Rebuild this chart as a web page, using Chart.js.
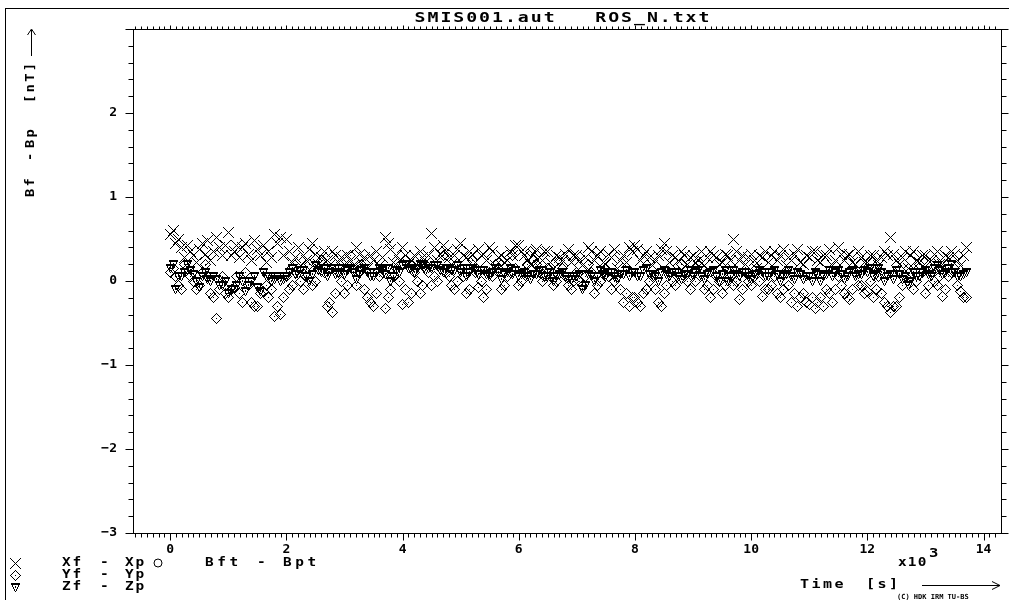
<!DOCTYPE html>
<html>
<head>
<meta charset="utf-8">
<style>
  html, body { margin: 0; padding: 0; background: #fff; }
  canvas { display: block; }
</style>
</head>
<body>
<canvas id="diffPlot" width="1009" height="600"></canvas>
<script src="https://cdn.jsdelivr.net/npm/chart.js@4.4.1/dist/chart.umd.min.js"></script>
<script>
// time in units of 10^3 s
var timeKs = [
  0.00, 0.05, 0.10, 0.15, 0.20, 0.25, 0.30, 0.35, 0.40, 0.45, 0.50, 0.55, 0.60, 0.65, 0.70, 0.75, 0.80, 0.85, 0.90, 0.95,
  1.00, 1.05, 1.10, 1.15, 1.20, 1.25, 1.30, 1.35, 1.40, 1.45, 1.50, 1.55, 1.60, 1.65, 1.70, 1.75, 1.80, 1.85, 1.90, 1.95,
  2.00, 2.05, 2.10, 2.15, 2.20, 2.25, 2.30, 2.35, 2.40, 2.45, 2.50, 2.55, 2.60, 2.65, 2.70, 2.75, 2.80, 2.85, 2.90, 2.95,
  3.00, 3.05, 3.10, 3.15, 3.20, 3.25, 3.30, 3.35, 3.40, 3.45, 3.50, 3.55, 3.60, 3.65, 3.70, 3.75, 3.80, 3.85, 3.90, 3.95,
  4.00, 4.05, 4.10, 4.15, 4.20, 4.25, 4.30, 4.35, 4.40, 4.45, 4.50, 4.55, 4.60, 4.65, 4.70, 4.75, 4.80, 4.85, 4.90, 4.95,
  5.00, 5.05, 5.10, 5.15, 5.20, 5.25, 5.30, 5.35, 5.40, 5.45, 5.50, 5.55, 5.60, 5.65, 5.70, 5.75, 5.80, 5.85, 5.90, 5.95,
  6.00, 6.05, 6.10, 6.15, 6.20, 6.25, 6.30, 6.35, 6.40, 6.45, 6.50, 6.55, 6.60, 6.65, 6.70, 6.75, 6.80, 6.85, 6.90, 6.95,
  7.00, 7.05, 7.10, 7.15, 7.20, 7.25, 7.30, 7.35, 7.40, 7.45, 7.50, 7.55, 7.60, 7.65, 7.70, 7.75, 7.80, 7.85, 7.90, 7.95,
  8.00, 8.05, 8.10, 8.15, 8.20, 8.25, 8.30, 8.35, 8.40, 8.45, 8.50, 8.55, 8.60, 8.65, 8.70, 8.75, 8.80, 8.85, 8.90, 8.95,
  9.00, 9.05, 9.10, 9.15, 9.20, 9.25, 9.30, 9.35, 9.40, 9.45, 9.50, 9.55, 9.60, 9.65, 9.70, 9.75, 9.80, 9.85, 9.90, 9.95,
  10.00, 10.05, 10.10, 10.15, 10.20, 10.25, 10.30, 10.35, 10.40, 10.45, 10.50, 10.55, 10.60, 10.65, 10.70, 10.75, 10.80, 10.85, 10.90, 10.95,
  11.00, 11.05, 11.10, 11.15, 11.20, 11.25, 11.30, 11.35, 11.40, 11.45, 11.50, 11.55, 11.60, 11.65, 11.70, 11.75, 11.80, 11.85, 11.90, 11.95,
  12.00, 12.05, 12.10, 12.15, 12.20, 12.25, 12.30, 12.35, 12.40, 12.45, 12.50, 12.55, 12.60, 12.65, 12.70, 12.75, 12.80, 12.85, 12.90, 12.95,
  13.00, 13.05, 13.10, 13.15, 13.20, 13.25, 13.30, 13.35, 13.40, 13.45, 13.50, 13.55, 13.60, 13.65, 13.70
];

// Xf - Xp  [nT]
var xDiff = [
  0.55, 0.60, 0.45, 0.50, 0.40, 0.28, 0.42, 0.35, 0.30, 0.22, 0.38, 0.45, 0.32, 0.48, 0.25, 0.35, 0.52, 0.40, 0.30, 0.42,
  0.58, 0.30, 0.35, 0.42, 0.28, 0.40, 0.45, 0.32, 0.25, 0.48, 0.38, 0.30, 0.42, 0.22, 0.35, 0.28, 0.55, 0.45, 0.52, 0.30,
  0.50, 0.35, 0.22, 0.28, 0.40, 0.18, 0.30, 0.25, 0.38, 0.45, 0.32, 0.20, 0.28, 0.35, 0.25, 0.18, 0.35, 0.30, 0.22, 0.28,
  0.20, 0.30, 0.25, 0.18, 0.40, 0.32, 0.22, 0.28, 0.15, 0.30, 0.25, 0.35, 0.18, 0.28, 0.52, 0.45, 0.38, 0.22, 0.30, 0.25,
  0.40, 0.30, 0.20, 0.25, 0.30, 0.18, 0.35, 0.28, 0.22, 0.30, 0.57, 0.40, 0.25, 0.32, 0.42, 0.35, 0.28, 0.20, 0.30, 0.38,
  0.45, 0.30, 0.28, 0.35, 0.32, 0.22, 0.38, 0.30, 0.32, 0.25, 0.40, 0.35, 0.18, 0.28, 0.30, 0.22, 0.25, 0.35, 0.30, 0.42,
  0.42, 0.35, 0.30, 0.25, 0.20, 0.32, 0.38, 0.28, 0.25, 0.35, 0.35, 0.22, 0.15, 0.30, 0.28, 0.25, 0.32, 0.38, 0.22, 0.30,
  0.30, 0.25, 0.18, 0.28, 0.40, 0.35, 0.25, 0.30, 0.35, 0.22, 0.20, 0.32, 0.28, 0.38, 0.15, 0.25, 0.30, 0.22, 0.40, 0.35,
  0.42, 0.38, 0.25, 0.30, 0.35, 0.28, 0.18, 0.25, 0.30, 0.38, 0.45, 0.35, 0.22, 0.30, 0.28, 0.25, 0.35, 0.30, 0.20, 0.28,
  0.30, 0.22, 0.25, 0.35, 0.18, 0.28, 0.35, 0.30, 0.28, 0.20, 0.22, 0.32, 0.30, 0.25, 0.50, 0.35, 0.25, 0.30, 0.20, 0.28,
  0.32, 0.25, 0.15, 0.30, 0.28, 0.35, 0.22, 0.30, 0.35, 0.25, 0.30, 0.38, 0.18, 0.28, 0.25, 0.32, 0.38, 0.22, 0.20, 0.30,
  0.28, 0.35, 0.35, 0.25, 0.22, 0.30, 0.30, 0.38, 0.18, 0.25, 0.40, 0.32, 0.25, 0.30, 0.32, 0.22, 0.20, 0.35, 0.28, 0.22,
  0.22, 0.30, 0.30, 0.25, 0.18, 0.28, 0.35, 0.30, 0.52, 0.32, 0.25, 0.20, 0.28, 0.35, 0.15, 0.30, 0.35, 0.25, 0.22, 0.30,
  0.30, 0.25, 0.25, 0.32, 0.35, 0.20, 0.20, 0.30, 0.28, 0.35, 0.32, 0.25, 0.18, 0.30, 0.40
];

// Yf - Yp  [nT]
var yDiff = [
  0.10, 0.15, 0.05, -0.05, -0.10, 0.20, 0.15, 0.05, 0.00, -0.10, -0.05, 0.10, 0.20, 0.05, -0.15, -0.20, -0.45, -0.10, 0.05, -0.15,
  -0.20, -0.10, -0.08, 0.05, -0.15, -0.25, 0.10, -0.05, -0.25, -0.30, -0.30, -0.15, -0.12, -0.05, -0.20, -0.10, -0.42, -0.30, -0.40, -0.20,
  0.05, -0.10, -0.05, 0.10, 0.15, 0.00, -0.10, 0.05, 0.20, -0.05, 0.00, 0.15, 0.25, 0.10, -0.30, -0.25, -0.38, -0.15, 0.10, 0.00,
  -0.15, -0.05, 0.30, 0.15, -0.05, 0.10, 0.20, -0.10, -0.20, -0.25, -0.30, -0.15, 0.05, 0.10, -0.33, -0.20, -0.10, 0.05, 0.15, 0.00,
  -0.28, -0.10, -0.25, -0.15, 0.10, 0.00, -0.15, -0.05, 0.20, 0.10, -0.05, 0.05, 0.00, 0.15, 0.30, 0.10, 0.05, -0.05, -0.10, 0.00,
  0.15, 0.05, -0.15, -0.10, 0.25, 0.10, -0.08, 0.00, -0.20, -0.10, 0.10, 0.05, 0.20, 0.15, -0.10, -0.05, 0.05, 0.10, 0.30, 0.15,
  -0.05, 0.00, 0.10, 0.20, 0.35, 0.25, 0.20, 0.10, 0.00, 0.05, 0.15, 0.05, -0.05, 0.00, 0.25, 0.15, 0.05, -0.05, -0.10, 0.00,
  0.10, 0.00, -0.05, 0.05, 0.20, 0.10, -0.15, -0.05, 0.00, 0.10, 0.15, 0.05, -0.10, 0.00, 0.05, -0.10, -0.25, -0.15, -0.30, -0.20,
  -0.20, -0.25, -0.30, -0.15, -0.10, 0.00, 0.05, -0.10, -0.25, -0.30, -0.15, -0.05, 0.10, 0.00, -0.05, 0.10, 0.20, 0.05, 0.00, -0.10,
  0.10, 0.00, 0.23, 0.15, -0.10, -0.05, -0.20, -0.10, 0.05, 0.00, -0.15, -0.05, 0.15, 0.05, -0.05, 0.00, -0.22, -0.10, 0.10, 0.00,
  -0.05, 0.05, 0.15, 0.00, -0.18, -0.10, -0.10, -0.05, 0.05, -0.15, -0.20, -0.10, 0.10, -0.05, -0.25, -0.15, -0.30, -0.20, -0.15, -0.25,
  -0.28, -0.20, -0.33, -0.25, -0.20, -0.30, -0.10, -0.15, -0.25, -0.10, 0.05, -0.05, -0.15, -0.20, -0.22, -0.10, 0.10, -0.05, -0.05, -0.15,
  -0.12, 0.00, -0.20, -0.10, 0.05, -0.15, -0.25, -0.30, -0.38, -0.30, -0.30, -0.20, -0.05, 0.05, 0.15, 0.05, -0.10, 0.00, 0.20, 0.10,
  -0.15, -0.05, 0.10, 0.00, -0.05, 0.05, -0.18, -0.10, 0.05, 0.10, 0.15, -0.05, -0.12, -0.20, -0.20
];

// Zf - Zp  [nT]
var zDiff = [
  0.15, 0.20, -0.10, 0.05, 0.05, 0.10, 0.20, 0.12, 0.08, 0.00, -0.08, 0.05, 0.10, 0.02, 0.00, 0.05, 0.02, -0.05, -0.05, 0.00,
  -0.15, -0.10, -0.10, -0.05, 0.05, 0.00, -0.12, -0.05, 0.00, 0.05, -0.08, -0.12, 0.10, 0.05, 0.05, 0.00, 0.02, 0.05, 0.00, 0.02,
  0.05, 0.10, 0.15, 0.08, 0.08, 0.12, 0.12, 0.05, 0.00, 0.08, 0.18, 0.12, 0.10, 0.15, 0.05, 0.10, 0.15, 0.08, 0.10, 0.15,
  0.08, 0.12, 0.15, 0.10, 0.02, 0.08, 0.12, 0.15, 0.10, 0.05, 0.05, 0.10, 0.15, 0.12, 0.08, 0.15, 0.00, 0.05, 0.12, 0.10,
  0.18, 0.20, 0.15, 0.12, 0.10, 0.15, 0.20, 0.18, 0.12, 0.15, 0.15, 0.18, 0.18, 0.12, 0.10, 0.15, 0.15, 0.12, 0.12, 0.18,
  0.10, 0.15, 0.05, 0.10, 0.15, 0.12, 0.08, 0.12, 0.12, 0.08, 0.05, 0.10, 0.15, 0.10, 0.02, 0.08, 0.10, 0.15, 0.08, 0.12,
  0.05, 0.08, 0.10, 0.05, 0.02, 0.08, 0.08, 0.12, 0.12, 0.05, 0.05, 0.10, 0.00, 0.05, 0.08, 0.10, 0.05, 0.02, 0.02, 0.05,
  0.05, 0.08, -0.10, -0.05, 0.08, 0.05, 0.00, 0.05, 0.12, 0.08, 0.05, 0.10, 0.10, 0.05, 0.02, 0.08, 0.08, 0.12, 0.05, 0.10,
  0.10, 0.05, 0.05, 0.12, 0.15, 0.08, 0.08, 0.05, 0.00, 0.10, 0.12, 0.08, 0.05, 0.10, 0.10, 0.05, 0.02, 0.08, 0.08, 0.12,
  0.05, 0.10, 0.12, 0.05, 0.02, 0.08, 0.10, 0.12, 0.05, 0.00, 0.08, 0.12, 0.00, 0.05, 0.12, 0.08, 0.05, 0.10, 0.10, 0.05,
  0.02, 0.08, 0.08, 0.12, 0.10, 0.05, 0.05, 0.10, 0.12, 0.08, 0.00, 0.05, 0.08, 0.12, 0.05, 0.02, 0.10, 0.08, 0.02, 0.05,
  0.05, 0.00, 0.10, 0.08, 0.00, 0.05, 0.08, 0.12, 0.05, 0.10, 0.12, 0.08, 0.02, 0.05, 0.10, 0.12, 0.05, 0.08, 0.08, 0.12,
  0.10, 0.15, 0.05, 0.08, 0.15, 0.10, 0.00, 0.05, 0.08, 0.02, 0.12, 0.08, 0.02, 0.05, -0.05, 0.00, 0.10, 0.05, 0.05, 0.10,
  0.12, 0.08, 0.05, 0.15, 0.18, 0.12, 0.08, 0.10, 0.15, 0.20, 0.10, 0.05, 0.05, 0.08, 0.10
];

var titleText = 'SMIS001.aut   ROS_N.txt';
var legendRows = [
  ['Xf', 'Xp'],
  ['Yf', 'Yp'],
  ['Zf', 'Zp']
];

var MONO = '"DejaVu Sans Mono", "Liberation Mono", monospace';

// pixel-drawn markers like the old plotter output
function makeMarker(kind) {
  var c = document.createElement('canvas');
  var g;
  var i;
  if (kind === 'cross') {
    c.width = 11; c.height = 11;
    g = c.getContext('2d');
    g.fillStyle = '#000';
    for (i = 0; i < 11; i++) {
      g.fillRect(i, i, 1, 1);
      g.fillRect(10 - i, i, 1, 1);
    }
  } else if (kind === 'diamond') {
    c.width = 11; c.height = 11;
    g = c.getContext('2d');
    g.fillStyle = '#000';
    for (i = 0; i <= 5; i++) {
      g.fillRect(5 - i, i, 1, 1);
      g.fillRect(5 + i, i, 1, 1);
      g.fillRect(5 - i, 10 - i, 1, 1);
      g.fillRect(5 + i, 10 - i, 1, 1);
    }
    g.fillRect(5, 5, 1, 1);
  } else {
    c.width = 9; c.height = 9;
    g = c.getContext('2d');
    g.fillStyle = '#000';
    g.fillRect(0, 0, 9, 2);
    for (i = 0; i < 9; i++) {
      var h = Math.floor(i / 2);
      g.fillRect(h, i, 1, 1);
      g.fillRect(8 - h, i, 1, 1);
    }
    g.fillRect(4, 3, 1, 2);
  }
  return c;
}

var crossImg = makeMarker('cross');
var diamondImg = makeMarker('diamond');
var triImg = makeMarker('tri');

function pairs(vals) {
  return timeKs.map(function (t, i) { return { x: t, y: vals[i] }; });
}

function line(ctx, x1, y1, x2, y2) {
  ctx.beginPath();
  ctx.moveTo(x1, y1);
  ctx.lineTo(x2, y2);
  ctx.stroke();
}

// wide, blocky text like the plotter font
function wideText(ctx, text, x, y, size, sx, spacing, align, angle) {
  ctx.save();
  ctx.translate(x, y);
  if (angle) ctx.rotate(angle);
  ctx.scale(sx, 1);
  ctx.font = 'bold ' + size + 'px ' + MONO;
  ctx.letterSpacing = spacing + 'px';
  ctx.textAlign = align || 'left';
  ctx.textBaseline = 'middle';
  ctx.fillText(text, 0, 0);
  ctx.restore();
}

var framePlugin = {
  id: 'framePlugin',
  beforeDatasetsDraw: function (chart) {
    chart.ctx.imageSmoothingEnabled = false;
  },
  afterDraw: function (chart) {
    var ctx = chart.ctx;
    var a = chart.chartArea;
    var xs = chart.scales.x;
    var ys = chart.scales.y;
    var L = Math.round(a.left) + 0.5, R = Math.round(a.right) + 0.5;
    var T = Math.round(a.top) + 0.5, B = Math.round(a.bottom) + 0.5;
    var i, p, major;

    ctx.save();
    ctx.strokeStyle = '#000';
    ctx.fillStyle = '#000';
    ctx.lineWidth = 1;

    // outer frame
    line(ctx, 5.5, 8, 5.5, 600);
    line(ctx, 5, 8.5, 1009, 8.5);

    // plot box
    ctx.strokeRect(L, T, R - L, B - T);

    // y ticks every 0.2, both sides, outward
    for (i = -15; i <= 15; i++) {
      p = Math.round(ys.getPixelForValue(i / 5)) + 0.5;
      major = (i % 5 === 0);
      line(ctx, L, p, L - (major ? 8 : 5), p);
      line(ctx, R, p, R + (major ? 7 : 5), p);
    }
    // x ticks every 0.1, top and bottom, outward
    for (i = -6; i <= 142; i++) {
      p = Math.round(xs.getPixelForValue(i / 10)) + 0.5;
      if (p < L || p > R) continue;
      major = (i % 20 === 0);
      line(ctx, p, B, p, B + (major ? 7 : 4));
      line(ctx, p, T, p, T - (major ? 4 : 3));
    }

    // title
    wideText(ctx, titleText, 563, 18, 14, 1.3, 1.5, 'center');

    // y axis title, rotated, read bottom to top
    var yParts = [['Bf', 197], ['-', 161], ['Bp', 148], ['[nT]', 103]];
    yParts.forEach(function (part) {
      wideText(ctx, part[0], 31, part[1], 12, 1.15, 2, 'left', -Math.PI / 2);
    });
    line(ctx, 31.5, 56, 31.5, 30);
    line(ctx, 27.5, 35, 31.5, 29);
    line(ctx, 35.5, 35, 31.5, 29);

    // legend
    var markers = [crossImg, diamondImg, triImg];
    var rowY = [563, 575, 587];
    for (i = 0; i < 3; i++) {
      var m = markers[i];
      ctx.drawImage(m, 15 - Math.floor(m.width / 2), rowY[i] - Math.floor(m.height / 2));
      wideText(ctx, legendRows[i][0], 62, rowY[i], 12, 1.2, 1.5, 'left');
      wideText(ctx, '-', 100, rowY[i], 12, 1.2, 0, 'left');
      wideText(ctx, legendRows[i][1], 125, rowY[i], 12, 1.2, 1.5, 'left');
    }
    ctx.beginPath();
    ctx.arc(158, 563, 4, 0, Math.PI * 2);
    ctx.stroke();
    wideText(ctx, 'Bft', 205, 563, 12, 1.2, 3, 'left');
    wideText(ctx, '-', 257, 563, 12, 1.2, 0, 'left');
    wideText(ctx, 'Bpt', 283, 563, 12, 1.2, 3, 'left');

    // x axis title and multiplier
    wideText(ctx, 'x10', 898, 563, 12, 1.2, 1, 'left');
    wideText(ctx, '3', 929, 554, 13, 1.2, 0, 'left');
    wideText(ctx, 'Time', 800, 585, 12, 1.25, 2, 'left');
    wideText(ctx, '[s]', 866, 585, 12, 1.25, 2, 'left');
    line(ctx, 922, 585.5, 1000, 585.5);
    line(ctx, 992, 581.5, 1000, 585.5);
    line(ctx, 992, 589.5, 1000, 585.5);

    ctx.font = 'bold 7px ' + MONO;
    ctx.letterSpacing = '0px';
    ctx.textAlign = 'left';
    ctx.textBaseline = 'middle';
    ctx.fillText('(C) HDK IRM TU-BS', 897, 597);
    ctx.restore();
  }
};

function pointSet(label, vals, img) {
  return {
    label: label,
    data: pairs(vals),
    showLine: false,
    pointStyle: img,
    pointRadius: 5,
    pointHoverRadius: 5,
    borderColor: '#000',
    backgroundColor: '#000'
  };
}

var ctx = document.getElementById('diffPlot').getContext('2d');
var chart = new Chart(ctx, {
  type: 'scatter',
  data: {
    datasets: [
      pointSet('Xf - Xp', xDiff, crossImg),
      pointSet('Yf - Yp', yDiff, diamondImg),
      pointSet('Zf - Zp', zDiff, triImg)
    ]
  },
  options: {
    responsive: false,
    animation: false,
    devicePixelRatio: 1,
    layout: { padding: { top: 29, right: 8, left: 0, bottom: 0 } },
    plugins: {
      legend: { display: false },
      title: { display: false },
      tooltip: { enabled: false }
    },
    scales: {
      x: {
        type: 'linear',
        min: -0.64,
        max: 14.3,
        afterFit: function (scale) { scale.height = 67; },
        grid: { display: false, drawTicks: false },
        border: { display: false },
        ticks: {
          stepSize: 2,
          includeBounds: false,
          maxRotation: 0,
          padding: 9,
          color: '#000',
          font: { family: MONO, size: 13, weight: 'bold' },
          callback: function (v) { return Number.isInteger(v) ? String(v) : ''; }
        }
      },
      y: {
        type: 'linear',
        min: -3,
        max: 3,
        afterFit: function (scale) { scale.width = 133; },
        grid: { display: false, drawTicks: false },
        border: { display: false },
        ticks: {
          stepSize: 1,
          padding: 16,
          color: '#000',
          font: { family: MONO, size: 13, weight: 'bold' },
          callback: function (v) {
            if (v === 3) return '';
            return v < 0 ? '\u2212' + Math.abs(v) : String(v);
          }
        }
      }
    }
  },
  plugins: [framePlugin]
});
</script>
</body>
</html>
